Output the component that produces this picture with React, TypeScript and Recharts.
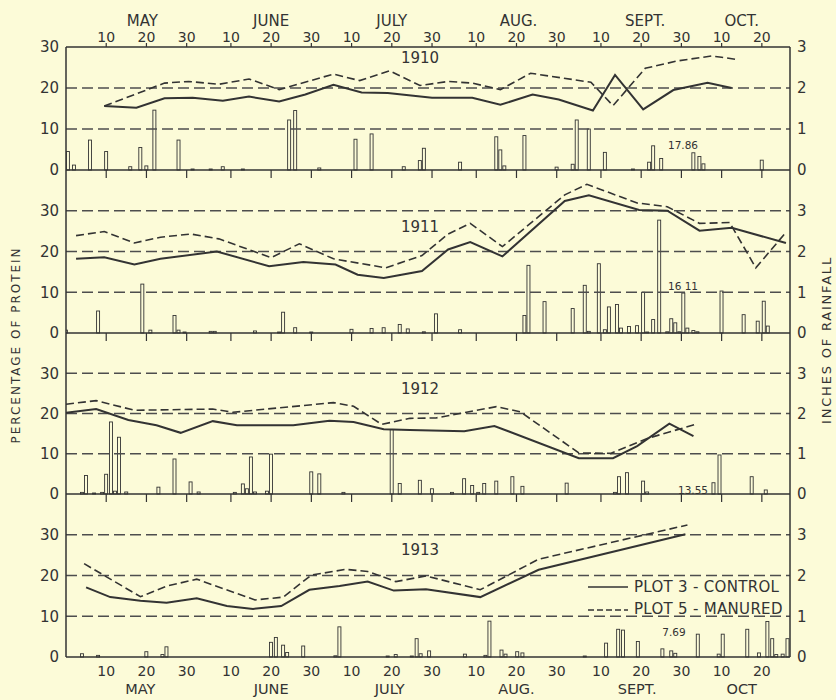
import React from 'react';
import { ComposedChart, Line, Bar, XAxis, YAxis, ReferenceLine } from 'recharts';

const BG = '#fcfbd8';
const INK = '#333333';
const GRID = '#4d4d4d';
const FONT = 'DejaVu Sans';

// x values are day of the year (May 1 = 121, Oct 31 = 304)
const DAY_TICKS = [130, 140, 150, 161, 171, 181, 191, 201, 211, 222, 232, 242, 253, 263, 273, 283, 293];
const DAY_TICK_LABELS = ['10', '20', '30', '10', '20', '30', '10', '20', '30', '10', '20', '30', '10', '20', '30', '10', '20'];
const MONTH_TOP_POS = [139, 171, 201, 232.5, 264, 288];
const MONTH_TOP_LABELS = ['MAY', 'JUNE', 'JULY', 'AUG.', 'SEPT.', 'OCT.'];
const MONTH_BOTTOM_POS = [138.5, 171, 200.5, 232, 262, 288];
const MONTH_BOTTOM_LABELS = ['MAY', 'JUNE', 'JULY', 'AUG.', 'SEPT.', 'OCT'];

const YEARS = ['1910', '1911', '1912', '1913'];
const RAIN_TOTALS = ['17.86', '16 11', '13.55', '7.69'];
const LEGEND_LABELS = ['PLOT 3 - CONTROL', 'PLOT 5 - MANURED'];

// ---- 1910 ----
const CTRL_1910_DAYS = [129.5, 137.5, 144.5, 151.5, 159, 165.5, 173, 179.5, 186.5, 193.5, 200, 211, 221, 228, 236, 242.5, 251, 256.5, 263.5, 271, 279.5, 285.5];
const CTRL_1910 = [15.6, 15.2, 17.5, 17.6, 16.9, 17.9, 16.7, 18.4, 20.8, 18.9, 18.8, 17.6, 17.6, 15.9, 18.4, 17.2, 14.5, 23.2, 14.8, 19.5, 21.3, 20.0];
const MAN_1910_DAYS = [129.5, 144.5, 150.5, 158, 165.5, 173, 186.5, 193, 200.5, 208, 215, 221, 228, 235.5, 250.5, 256, 264, 272, 280.5, 283, 286.5];
const MAN_1910 = [15.6, 21.2, 21.6, 20.9, 22.2, 19.6, 23.4, 21.8, 24.2, 20.6, 21.6, 21.2, 19.6, 23.6, 21.4, 15.7, 24.8, 26.6, 27.8, 27.5, 27.0];
const RAIN_1910_DAYS = [120.5, 122, 126, 130, 136, 138.5, 140, 142, 148, 151.5, 156, 159, 164, 175.5, 177, 183, 192, 196, 204, 208, 209, 218, 227, 228, 229, 234, 242, 246, 247, 250, 254, 261, 265, 266, 268, 276, 277.5, 278.5, 293];
const RAIN_1910 = [0.45, 0.12, 0.73, 0.45, 0.08, 0.55, 0.1, 1.46, 0.73, 0.02, 0.02, 0.08, 0.02, 1.22, 1.45, 0.05, 0.75, 0.88, 0.08, 0.23, 0.53, 0.19, 0.81, 0.49, 0.1, 0.84, 0.07, 0.14, 1.22, 1.0, 0.43, 0.02, 0.19, 0.59, 0.28, 0.42, 0.33, 0.15, 0.24];

// ---- 1911 ----
const CTRL_1911_DAYS = [122.5, 129.5, 137, 143.5, 157.5, 170.5, 179, 187, 192.5, 199, 208.5, 215, 220.5, 228.5, 244, 250, 262.5, 269.5, 277.5, 285.5, 299];
const CTRL_1911 = [18.2, 18.6, 16.8, 18.2, 20.0, 16.4, 17.4, 16.8, 14.3, 13.5, 15.2, 20.5, 22.3, 18.8, 32.4, 33.8, 30.2, 30.0, 25.1, 25.8, 22.1];
const MAN_1911_DAYS = [122.5, 129.5, 137, 143.5, 151, 158, 171, 178, 186.5, 199.5, 208.5, 215, 220.5, 228.5, 244, 249.5, 262, 269.5, 277.5, 285, 291.5, 299];
const MAN_1911 = [23.9, 24.9, 22.1, 23.5, 24.3, 23.1, 18.5, 21.9, 18.2, 16.0, 19.0, 24.3, 26.9, 21.2, 33.9, 36.5, 31.9, 31.0, 26.9, 27.1, 16.0, 24.7];
const RAIN_1911_DAYS = [120, 128, 139, 141, 147, 148, 149.5, 156, 157, 167, 173, 174, 177, 181, 191, 196, 199, 203, 205, 209, 212, 218, 234, 235, 239, 246, 249, 250, 252.5, 254, 255, 257, 258, 260, 262, 263.5, 264.5, 266, 267.5, 269.5, 270.5, 271.5, 272.5, 273.5, 274.5, 276, 277, 283, 288.5, 292, 293.5, 294.5];
const RAIN_1911 = [0.07, 0.54, 1.2, 0.07, 0.43, 0.07, 0.02, 0.04, 0.04, 0.05, 0.02, 0.51, 0.13, 0.01, 0.09, 0.11, 0.13, 0.21, 0.1, 0.03, 0.47, 0.08, 0.43, 1.66, 0.77, 0.6, 1.17, 0.04, 1.7, 0.08, 0.64, 0.7, 0.12, 0.16, 0.18, 1.0, 0.02, 0.33, 2.77, 0.03, 0.35, 0.25, 0.03, 0.98, 0.12, 0.06, 0.03, 1.03, 0.45, 0.29, 0.78, 0.17];

// ---- 1912 ----
const CTRL_1912_DAYS = [120, 127.5, 135.5, 142.5, 148.5, 156.5, 162.5, 176.5, 185.5, 191.5, 199, 205.5, 219, 226.5, 247.5, 256, 262, 270, 276];
const CTRL_1912 = [20.2, 21.1, 18.4, 17.1, 15.2, 18.1, 17.1, 17.1, 18.2, 17.9, 16.1, 15.9, 15.6, 16.9, 8.9, 8.9, 11.9, 17.5, 14.4];
const MAN_1912_DAYS = [120, 127.5, 137, 156.5, 161.5, 186.5, 191.5, 198.5, 205.5, 212, 227, 233, 247.5, 255.5, 264.5, 276.5];
const MAN_1912 = [22.3, 23.2, 20.8, 21.1, 20.3, 22.7, 21.8, 17.3, 18.8, 18.9, 21.7, 20.4, 10.2, 10.1, 13.8, 17.3];
const RAIN_1912_DAYS = [124, 125, 127, 129, 130, 131.2, 132.2, 133.2, 135, 143, 147, 151, 153, 162, 164, 165, 166, 167, 170, 171, 181, 183, 189, 201, 203, 208, 211, 216, 219, 221, 222.5, 224, 227, 231, 233.5, 244.5, 256.5, 257.5, 259.5, 263.5, 264.5, 281, 282.5, 290.5, 294];
const RAIN_1912 = [0.04, 0.46, 0.02, 0.04, 0.49, 1.79, 0.07, 1.41, 0.05, 0.17, 0.87, 0.3, 0.05, 0.04, 0.25, 0.13, 0.92, 0.05, 0.07, 0.99, 0.55, 0.5, 0.04, 1.6, 0.26, 0.34, 0.13, 0.04, 0.38, 0.21, 0.04, 0.26, 0.32, 0.43, 0.19, 0.27, 0.04, 0.43, 0.53, 0.32, 0.05, 0.28, 0.97, 0.43, 0.1];

// ---- 1913 ----
const CTRL_1913_DAYS = [125, 131, 138.5, 145, 152.5, 160, 166.5, 173.5, 180.5, 188, 195, 201.5, 209.5, 223, 237.5, 274];
const CTRL_1913 = [17.1, 14.7, 13.8, 13.3, 14.4, 12.5, 11.8, 12.5, 16.5, 17.4, 18.5, 16.3, 16.6, 14.7, 21.4, 30.1];
const MAN_1913_DAYS = [124.5, 138.5, 145, 152.5, 167, 174, 181, 189.5, 195, 202, 209.5, 223, 237.5, 274.5];
const MAN_1913 = [22.9, 14.8, 17.4, 19.1, 14.0, 14.7, 20.1, 21.5, 21.0, 18.5, 19.9, 16.5, 24.0, 32.4];
const RAIN_1913_DAYS = [124, 128, 140, 144, 145, 171, 172.2, 174, 175, 179, 187, 188, 200, 202, 206, 207.2, 208.2, 210.3, 219.2, 224.3, 225.3, 228.3, 229.3, 232.2, 233.5, 249, 254.3, 257.3, 258.5, 262.2, 268.3, 270.5, 271.5, 277.1, 282.3, 283.3, 289.4, 292.3, 294.4, 295.6, 296.6, 298.2, 299.4];
const RAIN_1913 = [0.08, 0.04, 0.13, 0.06, 0.25, 0.36, 0.48, 0.29, 0.11, 0.27, 0.03, 0.74, 0.02, 0.06, 0.02, 0.45, 0.08, 0.15, 0.07, 0.04, 0.88, 0.17, 0.07, 0.13, 0.1, 0.02, 0.34, 0.68, 0.66, 0.38, 0.2, 0.15, 0.09, 0.56, 0.07, 0.56, 0.68, 0.1, 0.87, 0.45, 0.06, 0.07, 0.45];

type Row = { day: number; ctrl?: number; man?: number; rain?: number };

function buildRows(cd: number[], cv: number[], md: number[], mv: number[], rd: number[], rv: number[]): Row[] {
  const map = new Map<number, Row>();
  const get = (d: number) => {
    if (!map.has(d)) map.set(d, { day: d });
    return map.get(d) as Row;
  };
  cd.forEach((d, i) => { get(d).ctrl = cv[i]; });
  md.forEach((d, i) => { get(d).man = mv[i]; });
  rd.forEach((d, i) => { get(d).rain = rv[i]; });
  return Array.from(map.values()).sort((a, b) => a.day - b.day);
}

const PANELS = [
  buildRows(CTRL_1910_DAYS, CTRL_1910, MAN_1910_DAYS, MAN_1910, RAIN_1910_DAYS, RAIN_1910),
  buildRows(CTRL_1911_DAYS, CTRL_1911, MAN_1911_DAYS, MAN_1911, RAIN_1911_DAYS, RAIN_1911),
  buildRows(CTRL_1912_DAYS, CTRL_1912, MAN_1912_DAYS, MAN_1912, RAIN_1912_DAYS, RAIN_1912),
  buildRows(CTRL_1913_DAYS, CTRL_1913, MAN_1913_DAYS, MAN_1913, RAIN_1913_DAYS, RAIN_1913),
];

const dayLabel = (v: number) => {
  const i = DAY_TICKS.indexOf(v);
  return i >= 0 ? DAY_TICK_LABELS[i] : '';
};
const monthTopLabel = (v: number) => {
  const i = MONTH_TOP_POS.indexOf(v);
  return i >= 0 ? MONTH_TOP_LABELS[i] : '';
};
const monthBottomLabel = (v: number) => {
  const i = MONTH_BOTTOM_POS.indexOf(v);
  return i >= 0 ? MONTH_BOTTOM_LABELS[i] : '';
};

const RainBar = (p: any) => {
  const { x, y, width, height, payload } = p;
  if (!payload || payload.rain == null) return <g />;
  if (![x, y, width, height].every((n) => Number.isFinite(n))) return <g />;
  const cx = x + width / 2;
  const h = Math.max(height, 1);
  return <rect x={cx - 1.5} y={y + height - h} width={3} height={h} fill={BG} stroke={INK} strokeWidth={0.9} />;
};

const tickStyle = { fontSize: 14, fill: INK, fontFamily: FONT };
const yTickStyle = { fontSize: 15, fill: INK, fontFamily: FONT };
const DOMAIN: [number, number] = [120, 300];

type PanelProps = { rows: Row[]; max: number; top: number; plotH: number; first?: boolean; last?: boolean };

function Panel({ rows, max, top, plotH, first, last }: PanelProps) {
  const mTop = first ? 9 : 5;
  const topAxes = first ? 38 : 0;
  const bottomAxes = last ? 43 : 10;
  const height = mTop + topAxes + plotH + bottomAxes;
  const grid = max === 30 ? [10, 20] : [10, 20, 30];
  return (
    <div style={{ position: 'absolute', left: 0, top: top - mTop - topAxes }}>
      <ComposedChart width={836} height={height} data={rows} margin={{ top: mTop, right: 16, bottom: 0, left: 36 }}>
        <XAxis
          xAxisId="b1"
          dataKey="day"
          type="number"
          domain={DOMAIN}
          allowDataOverflow
          ticks={DAY_TICKS}
          interval={0}
          orientation="bottom"
          height={last ? 18 : 10}
          axisLine={{ stroke: INK, strokeWidth: 1.5 }}
          tickLine={last ? false : { stroke: INK, strokeWidth: 1.2 }}
          tickSize={last ? 0 : 8}
          tickMargin={last ? 9 : 0}
          tickFormatter={last ? dayLabel : () => ''}
          tick={tickStyle}
        />
        {last && (
          <XAxis
            xAxisId="b2"
            dataKey="day"
            type="number"
            domain={DOMAIN}
            allowDataOverflow
            ticks={MONTH_BOTTOM_POS}
            interval={0}
            orientation="bottom"
            height={25}
            axisLine={false}
            tickLine={false}
            tickSize={0}
            tickMargin={9}
            tickFormatter={monthBottomLabel}
            tick={{ ...tickStyle, fontSize: 14.5 }}
          />
        )}
        {first && (
          <XAxis
            xAxisId="t1"
            dataKey="day"
            type="number"
            domain={DOMAIN}
            allowDataOverflow
            ticks={DAY_TICKS}
            interval={0}
            orientation="top"
            height={20}
            axisLine={{ stroke: INK, strokeWidth: 1.5 }}
            tickLine={{ stroke: INK, strokeWidth: 1.2 }}
            tickSize={4}
            tickMargin={1}
            tickFormatter={dayLabel}
            tick={tickStyle}
          />
        )}
        {first && (
          <XAxis
            xAxisId="t2"
            dataKey="day"
            type="number"
            domain={DOMAIN}
            allowDataOverflow
            ticks={MONTH_TOP_POS}
            interval={0}
            orientation="top"
            height={18}
            axisLine={false}
            tickLine={false}
            tickSize={0}
            tickMargin={1}
            tickFormatter={monthTopLabel}
            tick={{ ...tickStyle, fontSize: 15 }}
          />
        )}
        <YAxis
          yAxisId="l"
          domain={[0, max]}
          ticks={[0, 10, 20, 30]}
          interval={0}
          width={30}
          axisLine={{ stroke: INK, strokeWidth: 1.5 }}
          tickLine={false}
          tickSize={0}
          tickMargin={7}
          tick={yTickStyle}
        />
        <YAxis
          yAxisId="r"
          orientation="right"
          domain={[0, max / 10]}
          ticks={[0, 1, 2, 3]}
          interval={0}
          width={30}
          axisLine={{ stroke: INK, strokeWidth: 1.5 }}
          tickLine={false}
          tickSize={0}
          tickMargin={7}
          tick={yTickStyle}
        />
        {grid.map((g) => (
          <ReferenceLine key={g} xAxisId="b1" yAxisId="l" y={g} stroke={GRID} strokeWidth={1.3} strokeDasharray="11 5" />
        ))}
        <Bar xAxisId="b1" yAxisId="r" dataKey="rain" barSize={3} shape={RainBar} isAnimationActive={false} />
        <Line xAxisId="b1" yAxisId="l" type="linear" dataKey="ctrl" stroke={INK} strokeWidth={2} dot={false} connectNulls isAnimationActive={false} />
        <Line xAxisId="b1" yAxisId="l" type="linear" dataKey="man" stroke={INK} strokeWidth={1.6} strokeDasharray="8 4" dot={false} connectNulls isAnimationActive={false} />
      </ComposedChart>
    </div>
  );
}

const Txt = ({ x, y, size, children, rotate, spacing }: any) => (
  <div
    style={{
      position: 'absolute',
      left: x,
      top: y,
      transform: `translate(-50%, -50%)${rotate ? ' rotate(-90deg)' : ''}`,
      fontSize: size,
      lineHeight: 1,
      whiteSpace: 'nowrap',
      color: INK,
      fontFamily: FONT,
      letterSpacing: spacing || 0,
    }}
  >
    {children}
  </div>
);

export default function App() {
  const panelTops = [47, 170, 333, 494];
  const plotHs = [123, 163, 161, 163];
  const yearY = [58, 227, 389, 550];
  const totalPos = [
    [683, 145],
    [683, 286],
    [693, 490],
    [674, 632],
  ];
  return (
    <div style={{ position: 'absolute', left: 0, top: 0, width: 836, height: 700, background: BG, overflow: 'hidden', fontFamily: FONT }}>
      {PANELS.map((rows, i) => (
        <Panel key={i} rows={rows} max={i === 0 ? 30 : 40} top={panelTops[i]} plotH={plotHs[i]} first={i === 0} last={i === 3} />
      ))}
      {YEARS.map((y, i) => (
        <Txt key={y} x={420} y={yearY[i]} size={15}>{y}</Txt>
      ))}
      {RAIN_TOTALS.map((t, i) => (
        <Txt key={t} x={totalPos[i][0]} y={totalPos[i][1]} size={10.5}>{t}</Txt>
      ))}
      <Txt x={16} y={345} size={12} rotate spacing={2}>PERCENTAGE OF PROTEIN</Txt>
      <Txt x={826} y={340} size={13} rotate spacing={1.8}>INCHES OF RAINFALL</Txt>
      <svg style={{ position: 'absolute', left: 586, top: 579 }} width={44} height={40}>
        <line x1={2} y1={8} x2={42} y2={8} stroke={INK} strokeWidth={1.6} />
        <line x1={2} y1={31} x2={42} y2={31} stroke={INK} strokeWidth={1.4} strokeDasharray="6 3" />
      </svg>
      <div style={{ position: 'absolute', left: 634, top: 587, transform: 'translateY(-50%)', fontSize: 15, lineHeight: 1, whiteSpace: 'nowrap', color: INK, letterSpacing: 0.3 }}>
        {LEGEND_LABELS[0]}
      </div>
      <div style={{ position: 'absolute', left: 634, top: 609, transform: 'translateY(-50%)', fontSize: 15, lineHeight: 1, whiteSpace: 'nowrap', color: INK, letterSpacing: 0.3 }}>
        {LEGEND_LABELS[1]}
      </div>
    </div>
  );
}
